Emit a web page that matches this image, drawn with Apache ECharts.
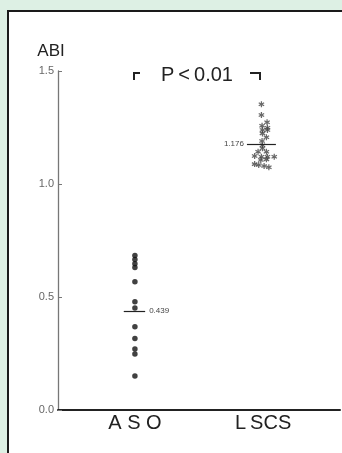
<!DOCTYPE html>
<html>
<head>
<meta charset="utf-8">
<script src="https://cdn.jsdelivr.net/npm/echarts@6/dist/echarts.min.js"></script>
<style>
  html, body { margin: 0; padding: 0; width: 342px; height: 453px; overflow: hidden; background: #ddf0e4; }
  .panel { position: absolute; left: 7px; top: 10px; width: 360px; height: 470px; background: #fff;
           border-top: 2px solid #1a1a1a; border-left: 2px solid #1a1a1a; }
  #chart { position: absolute; left: 0; top: 0; width: 342px; height: 453px; }
</style>
</head>
<body>
<div class="panel"></div>
<div id="chart"></div>
<script>
// 分组和标签
const groups = ['ASO', 'LSCS'];
const groupLabels = ['A S O', 'L\u2009SCS'];
const yTicks = [0, 0.5, 1.0, 1.5];

// ASO 组 ABI 值（黑点）
const asoValues = [0.684, 0.666, 0.647, 0.630, 0.568, 0.479, 0.451, 0.368, 0.316, 0.270, 0.248, 0.150];
const asoJitter = [0, 0, 0, 0, 0, 0, 0, 0, 0, 0, 0, 0];

// LSCS 组 ABI 值（星号）
const lscsValues = [1.353, 1.305, 1.273, 1.258, 1.249, 1.239, 1.239, 1.224, 1.207, 1.190, 1.171, 1.158,
                    1.143, 1.143, 1.124, 1.121, 1.121, 1.121, 1.106, 1.109, 1.088, 1.084, 1.080, 1.074];
const lscsJitter = [-0.013, -0.013, 0.031, -0.008, 0.034, -0.005, 0.034, -0.005, 0.026, -0.008, -0.005, -0.005,
                    -0.039, 0.026, -0.066, -0.013, 0.034, 0.087, -0.018, 0.026, -0.066, -0.034, 0.008, 0.045];

// 平均值
const meanValues = [0.439, 1.176];
const meanLabels = ['0.439', '1.176'];
const pText = 'P\u2009<\u20090.01';

const chart = echarts.init(document.getElementById('chart'));

// 星号形状
const starPath = 'path://M-0.6,-3L0.6,-3L0.6,3L-0.6,3Z' +
    'M-2.898,-0.98L-2.298,-2.02L2.898,0.98L2.298,2.02Z' +
    'M2.298,-2.02L2.898,-0.98L-2.298,2.02L-2.898,0.98Z';

const font = '"Liberation Sans", Arial, Helvetica, sans-serif';

chart.setOption({
    animation: false,
    grid: { left: 58, right: 2, top: 71, bottom: 43 },
    xAxis: {
        type: 'value',
        min: 0.4,
        max: 2.6,
        axisLine: { show: true, onZero: false, lineStyle: { color: '#222', width: 2 } },
        axisTick: { show: false },
        splitLine: { show: false },
        axisLabel: {
            customValues: [1, 2],
            formatter: (v) => groupLabels[Math.round(v) - 1],
            margin: 3,
            fontSize: 20,
            color: '#222',
            fontFamily: font
        }
    },
    yAxis: {
        type: 'value',
        min: yTicks[0],
        max: yTicks[yTicks.length - 1],
        interval: 0.5,
        name: 'ABI',
        nameLocation: 'end',
        nameGap: 11,
        nameTextStyle: { fontSize: 17, color: '#222', fontFamily: font, padding: [0, 14, 0, 0] },
        axisLine: { show: true, onZero: false, lineStyle: { color: '#777', width: 1.3 } },
        axisTick: { show: true, inside: true, length: 4, lineStyle: { color: '#777' } },
        splitLine: { show: false },
        axisLabel: {
            formatter: (v) => v.toFixed(1),
            fontSize: 11,
            color: '#666',
            margin: 4,
            fontFamily: font
        }
    },
    graphic: [
        {
            type: 'text',
            x: 197, y: 75,
            style: { text: pText, fill: '#222', align: 'center', verticalAlign: 'middle', font: '20px ' + font }
        },
        {
            type: 'polyline',
            shape: { points: [[134, 80], [134, 73], [140, 73]] },
            style: { stroke: '#222', lineWidth: 2, fill: null }
        },
        {
            type: 'polyline',
            shape: { points: [[250, 73], [260, 73], [260, 80]] },
            style: { stroke: '#222', lineWidth: 2, fill: null }
        }
    ],
    series: [
        {
            name: groups[0],
            type: 'scatter',
            symbol: 'circle',
            symbolSize: 5.5,
            itemStyle: { color: '#111' },
            data: asoValues.map((v, i) => [1 + asoJitter[i], v]),
            markLine: {
                silent: true,
                symbol: ['none', 'none'],
                lineStyle: { color: '#222', width: 1.2, type: 'solid' },
                label: { position: 'end', distance: 4, formatter: meanLabels[0], fontSize: 8, color: '#444', fontFamily: font },
                data: [[{ coord: [0.913, meanValues[0]] }, { coord: [1.08, meanValues[0]] }]]
            }
        },
        {
            name: groups[1],
            type: 'scatter',
            symbol: starPath,
            symbolSize: 6,
            itemStyle: { color: '#444' },
            data: lscsValues.map((v, i) => [2 + lscsJitter[i], v]),
            markLine: {
                silent: true,
                symbol: ['none', 'none'],
                lineStyle: { color: '#222', width: 1.2, type: 'solid' },
                label: { position: 'start', distance: 3, formatter: meanLabels[1], fontSize: 8, color: '#444', fontFamily: font },
                data: [[{ coord: [1.874, meanValues[1]] }, { coord: [2.1, meanValues[1]] }]]
            }
        }
    ]
});

window.addEventListener('resize', () => chart.resize());
</script>
</body>
</html>
